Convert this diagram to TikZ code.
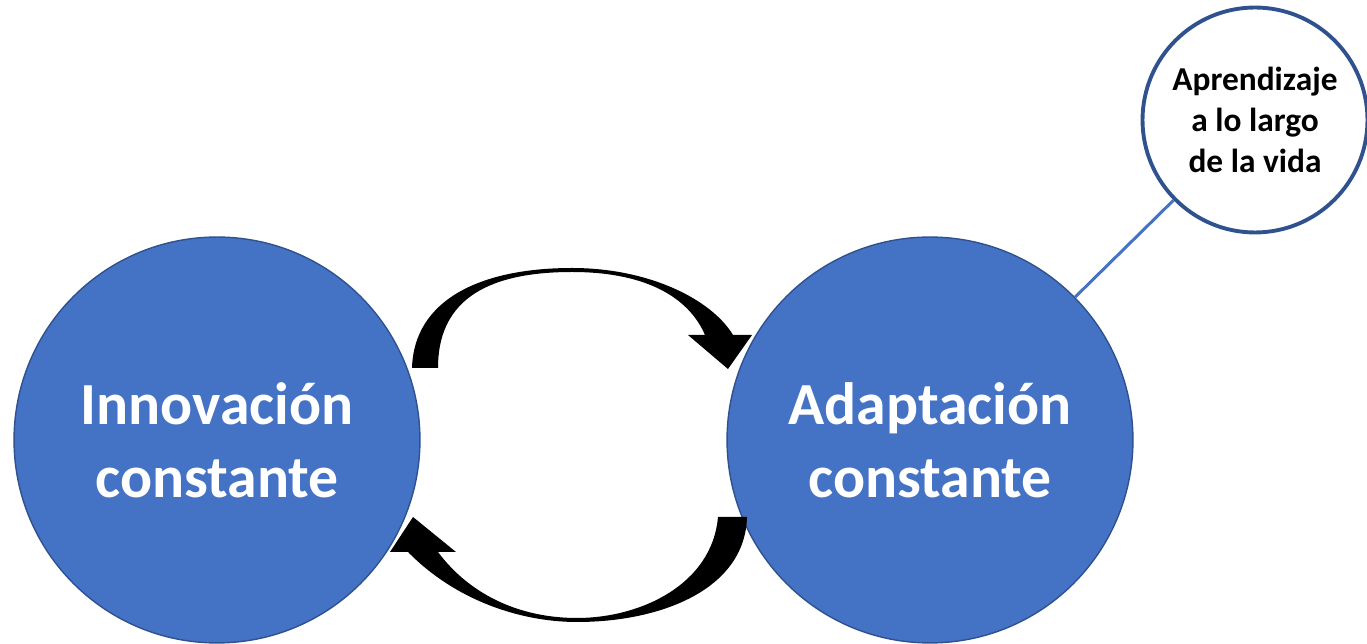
\documentclass[tikz,border=0pt]{standalone}
\usepackage{fontspec}
\setmainfont{Carlito}
\usepackage{xcolor}
\definecolor{accblue}{HTML}{4472C4}
\definecolor{edgeblue}{HTML}{2F528F}
\usetikzlibrary{positioning}

\begin{document}
\begin{tikzpicture}[x=0.02cm, y=-0.02cm,
  bigc/.style={circle, draw=edgeblue, line width=0.8pt, fill=accblue, minimum size=8.12cm, inner sep=0pt, align=center, text=white, font=\fontsize{34}{41.5}\selectfont\bfseries},
  smallc/.style={circle, draw=edgeblue, line width=2.2pt, fill=white, minimum size=4.5cm, inner sep=0pt, align=center, font=\fontsize{19}{23.3}\selectfont\bfseries},
  link/.style={draw=accblue, line width=1.7pt},
  cyc/.style={fill=black}
]
\useasboundingbox (0,0) rectangle (1367,644);

% --- main circles ---
\node[bigc] (inno) at (217,440) {Innovación\\constante};
\node[bigc] (adap) at (930,440) {Adaptación\\constante};

% side circle
\node[smallc] (aprend) at (1255,120) {Aprendizaje\\a lo largo\\de la vida};
\draw[link] (adap) -- (aprend);

% --- curved arrows ---
% top: innovacion -> adaptacion
\fill[cyc] (412,368) .. controls (414,300) and (480,268) .. (572,268)
  .. controls (650,268) and (712,300) .. (733,335)
  -- (752,335) -- (728,369) -- (688,335) -- (705,335)
  .. controls (690,300) and (650,272) .. (572,272)
  .. controls (480,272) and (438,305) .. (438,368) -- cycle;
% bottom: adaptacion -> innovacion
\fill[cyc] (747,517) .. controls (745,590) and (660,622) .. (577,622)
  .. controls (520,622) and (455,600) .. (408,552)
  -- (390,552) -- (413,517) -- (456,552) -- (438,552)
  .. controls (470,595) and (520,618) .. (577,618)
  .. controls (640,618) and (712,585) .. (718,517) -- cycle;
\end{tikzpicture}
\end{document}
